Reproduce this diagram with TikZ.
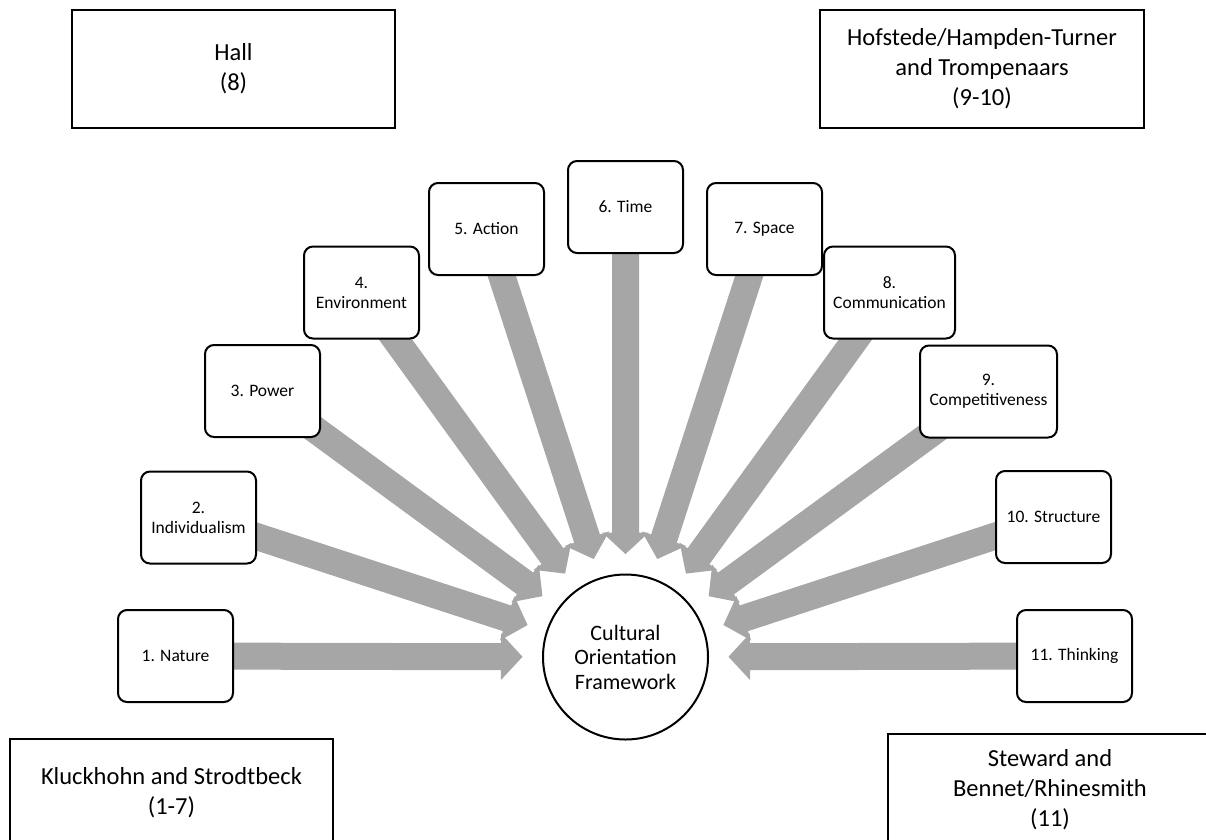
\documentclass[tikz,border=0pt]{standalone}
\usepackage{fontspec}
\setmainfont{Carlito}
\usetikzlibrary{calc}
\definecolor{arrowgray}{HTML}{A6A6A6}
\begin{document}
\begin{tikzpicture}[x=1pt,y=-1pt,
  dimbox/.style={draw=black, line width=2pt, fill=white, rounded corners=9pt,
    minimum width=115pt, minimum height=92pt, align=center, inner sep=2pt,
    font=\fontsize{17.5}{20}\selectfont},
  srcbox/.style={draw=black, line width=2.5pt, fill=white, align=center,
    inner sep=0pt, font=\fontsize{24.5}{30}\selectfont},
  hub/.style={circle, draw=black, line width=2pt, fill=white, minimum size=165pt,
    align=center, inner sep=0pt, font=\fontsize{22}{24.5}\selectfont},
  blk/.style={fill=arrowgray}]
\useasboundingbox (0,0) rectangle (1206,839);
\clip (0,0) rectangle (1206,839);

% hub
\coordinate (hubc) at (625.5,657);

% dimension boxes (positions only, drawn after arrows)
\coordinate (p1) at (175.5,656);
\coordinate (p2) at (198.5,517.5);
\coordinate (p3) at (262.5,391);
\coordinate (p4) at (361.5,292.5);
\coordinate (p5) at (486.5,229);
\coordinate (p6) at (625.5,207);
\coordinate (p7) at (764.5,229);
\coordinate (p8) at (889.5,292.5);
\coordinate (p9) at (988.5,391.5);
\coordinate (p10) at (1053.5,517);
\coordinate (p11) at (1074.5,656);

% block arrows
\foreach \b in {p1,p2,p3,p4,p5,p6,p7,p8,p9,p10,p11} {
  \coordinate (T) at ($(hubc)!103pt!(\b)$);
  \coordinate (H) at ($(hubc)!124.5pt!(\b)$);
  \fill[blk] ($(\b)!13.5pt!90:(hubc)$) -- ($(H)!13.5pt!90:(hubc)$)
    -- ($(H)!23.3pt!90:(hubc)$) -- (T) -- ($(H)!23.3pt!-90:(hubc)$)
    -- ($(H)!13.5pt!-90:(hubc)$) -- ($(\b)!13.5pt!-90:(hubc)$) -- cycle;
}

\node[hub] (cof) at (hubc) {Cultural\\Orientation\\Framework};

\node[dimbox] (n1) at (p1) {1. Nature};
\node[dimbox] (n2) at (p2) {2.\\Individualism};
\node[dimbox] (n3) at (p3) {3. Power};
\node[dimbox] (n4) at (p4) {4.\\Environment};
\node[dimbox] (n5) at (p5) {5. Action};
\node[dimbox] (n6) at (p6) {6. Time};
\node[dimbox] (n7) at (p7) {7. Space};
\node[dimbox, minimum width=131pt] (n8) at (p8) {8.\\Communication};
\node[dimbox, minimum width=137pt] (n9) at (p9) {9.\\Competitiveness};
\node[dimbox] (n10) at (p10) {10. Structure};
\node[dimbox] (n11) at (p11) {11. Thinking};

% source boxes
\node[srcbox, minimum width=323pt, minimum height=118pt] (hall) at (233.5,69) {Hall\\(8)};
\node[srcbox, minimum width=324pt, minimum height=118pt] (hof) at (982,69)
  {Hofstede/Hampden-Turner\\and Trompenaars\\(9-10)};
\node[srcbox, minimum width=323pt, minimum height=107pt] (kluck) at (171.5,792.5)
  {Kluckhohn and Strodtbeck\\(1-7)};
\node[srcbox, minimum width=324pt, minimum height=111pt] (stew) at (1050,789.5)
  {Steward and\\Bennet/Rhinesmith\\(11)};
\end{tikzpicture}
\end{document}
